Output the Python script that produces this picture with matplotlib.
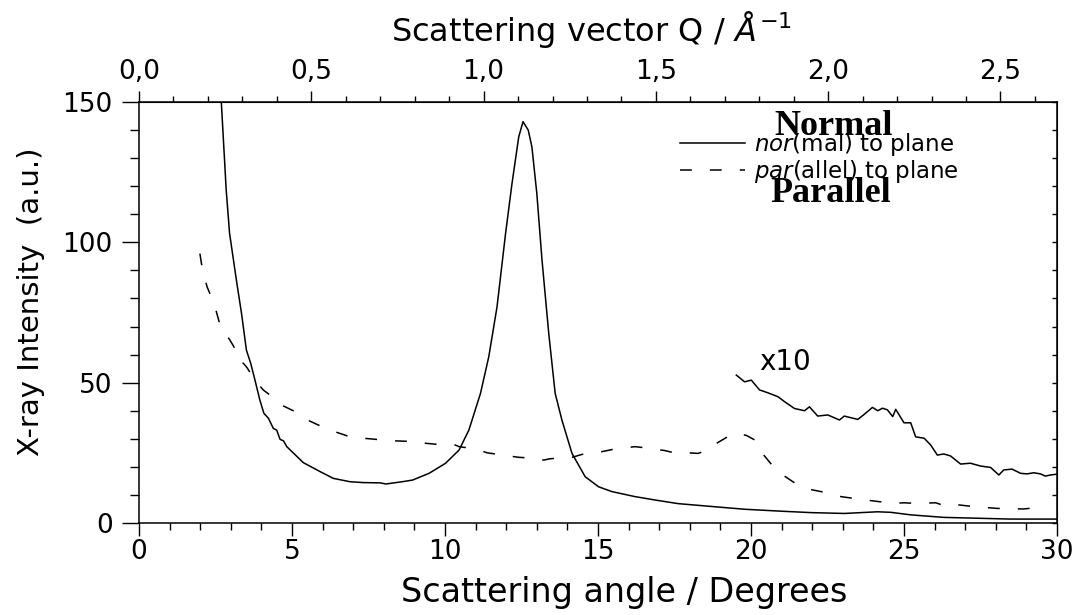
import matplotlib
matplotlib.use("Agg")
import matplotlib.pyplot as plt
from matplotlib.lines import Line2D
from matplotlib.ticker import MultipleLocator, FixedLocator, FuncFormatter
import numpy as np

# scattering angle (deg) / intensity
nor_deg = [2.62, 2.69, 2.85, 2.96, 3.19, 3.35, 3.51, 3.65, 3.79, 3.95, 4.08, 4.23,
           4.39, 4.5, 4.61, 4.72, 4.83, 5.37, 5.92, 6.35, 6.9, 7.33, 7.88, 8.07,
           8.6, 8.94, 9.48, 10.02, 10.46, 10.78, 11.16, 11.43, 11.7, 11.98, 12.19,
           12.41, 12.55, 12.72, 12.84, 13.0, 13.17, 13.39, 13.6, 13.82, 14.15,
           14.58, 15.02, 15.45, 16.21, 16.86, 17.62, 18.7, 19.79, 21.0, 21.96,
           23.05, 24.14, 24.57, 25.22, 26.3, 27.39, 28.48, 30.0]
nor_int = [160, 150, 118.6, 103.2, 86, 74.7, 61.6, 56.9, 50.9, 43.8, 39.1, 37.3,
           33.7, 33.1, 29.8, 29.3, 27.2, 21.5, 18.3, 15.9, 14.7, 14.4, 14.3, 13.9,
           14.7, 15.3, 17.7, 21.3, 26, 33.1, 46.2, 59.2, 77, 103.2, 121,
           137.6, 143, 140, 134, 117.5, 93.7, 67.6, 46.2, 36.7, 24.8,
           16.5, 12.9, 11.2, 9.4, 8.2, 6.9, 5.9, 4.9, 4.2, 3.7,
           3.4, 4.0, 3.8, 2.9, 2.0, 1.7, 1.4, 1.4]

par_deg = [1.99, 2.04, 2.16, 2.23, 2.43, 2.52, 2.65, 2.81, 2.97, 3.1, 3.28, 3.41,
           3.52, 3.79, 4.06, 4.5, 4.72, 5.04, 5.31, 5.92, 6.3, 6.95, 7.33, 7.96,
           8.28, 9.04, 9.37, 9.97, 10.29, 10.46, 11.0, 11.38, 12.08, 12.41, 13.06,
           13.22, 13.44, 14.15, 14.53, 15.12, 15.56, 16.21, 16.54, 17.19, 17.57,
           17.95, 18.27, 18.49, 18.6, 19.2, 19.41, 19.63, 19.85, 20.12, 20.28,
           20.66, 20.93, 21.48, 21.91, 22.56, 22.94, 23.59, 23.97, 24.63, 25.0,
           25.38, 26.04, 26.3, 26.5, 27.07, 27.34, 28.05, 28.43, 28.91, 29.35, 29.6]
par_int = [96, 92.5, 86.6, 84, 78.8, 75.6, 70.5, 67.6, 65.2, 62.8, 57.5, 56.9,
           55.5, 50.9, 47.4, 43.8, 41.7, 40.0, 37.7, 34.6, 32.9, 30.5, 30.2, 29.6,
           29.3, 29.0, 28.4, 27.8, 28.0, 27.2, 26.4, 25.0, 23.9, 23.4, 23.0,
           22.4, 22.9, 23.4, 24.6, 25.4, 26.4, 27.2, 26.8, 25.8, 24.8,
           25.0, 24.8, 25.6, 26.6, 30.5, 31.9, 31.7, 31.2, 29.6, 26.0,
           21.0, 17.9, 13.9, 12.0, 10.6, 9.4, 8.4, 7.9, 7.0, 7.2,
           7.0, 7.2, 6.2, 6.8, 6.1, 5.8, 5.2, 5.1, 5.0, 5.5, 5.0]

# normal curve magnified x10 above 19.5 deg
x10_deg = [19.52, 19.79, 20.01, 20.28, 20.55, 20.88, 21.1, 21.42, 21.75, 21.91,
           22.18, 22.51, 22.89, 23.05, 23.49, 23.71, 23.97, 24.14, 24.3, 24.46,
           24.63, 24.73, 25.0, 25.22, 25.38, 25.66, 25.87, 26.09, 26.3, 26.52,
           26.85, 27.17, 27.5, 27.83, 28.1, 28.26, 28.53, 28.81, 29.02, 29.24,
           29.46, 29.62, 29.78, 30.0]
x10_int = [52.7, 50.3, 50.9, 47.4, 46.4, 45.0, 43.2, 40.8, 40.0, 41.4,
           38.1, 38.5, 36.7, 38.1, 36.9, 38.8, 41.2, 40.0, 40.9, 40.3,
           37.9, 40.5, 35.7, 35.7, 30.7, 30.2, 27.8, 24.2, 24.6, 23.9,
           21.0, 21.3, 20.3, 19.8, 17.1, 18.9, 19.2, 17.7, 17.5, 17.9,
           17.5, 16.7, 17.1, 17.4]

q_ticks = [0.0, 0.5, 1.0, 1.5, 2.0, 2.5]
Q_PER_DEG = 0.0888  # top axis conversion, degrees -> 1/Angstrom

plt.rcParams["font.family"] = "DejaVu Sans"
plt.rcParams["mathtext.fontset"] = "dejavusans"
plt.rcParams["lines.scale_dashes"] = False

fig = plt.figure(figsize=(10.8, 6.15), dpi=100)
ax = fig.add_axes([139 / 1080, 1 - 523 / 615, 918 / 1080, 421 / 615])

lw = 1.1
dash = (8.5, 13)
ax.plot(nor_deg, nor_int, color="black", linewidth=lw)
ax.plot(par_deg, par_int, color="black", linewidth=lw, linestyle=(0, dash))
ax.plot(x10_deg, x10_int, color="black", linewidth=lw)

ax.set_xlim(0, 30)
ax.set_ylim(0, 150)
for s in ax.spines.values():
    s.set_linewidth(1.1)

ax.xaxis.set_major_locator(MultipleLocator(5))
ax.xaxis.set_minor_locator(MultipleLocator(1))
ax.yaxis.set_major_locator(MultipleLocator(50))
ax.yaxis.set_minor_locator(MultipleLocator(10))
ax.tick_params(axis="x", which="major", direction="out", length=9.5, width=1.0,
               labelsize=19, pad=2, top=False)
ax.tick_params(axis="x", which="minor", direction="out", length=5, width=1.0, top=False)
ax.tick_params(axis="y", which="major", direction="out", length=12, width=1.0,
               labelsize=19, pad=7, right=False)
ax.tick_params(axis="y", which="minor", direction="out", length=6.5, width=1.0, right=False)

ax.set_xlabel("Scattering angle / Degrees", fontsize=24)
ax.xaxis.set_label_coords(0.528, -0.127)
ax.set_ylabel("X-ray Intensity  (a.u.)", fontsize=21)
ax.yaxis.set_label_coords(-0.102, 0.525)

# top axis in scattering vector
secx = ax.secondary_xaxis("top", functions=(lambda d: d * Q_PER_DEG,
                                             lambda q: q / Q_PER_DEG))
secx.xaxis.set_major_locator(FixedLocator(q_ticks))
secx.xaxis.set_minor_locator(MultipleLocator(0.1))
secx.xaxis.set_major_formatter(FuncFormatter(lambda v, p: f"{v:.1f}".replace(".", ",")))
secx.tick_params(which="major", direction="out", length=8, width=1.0, labelsize=19, pad=4)
secx.tick_params(which="minor", direction="out", length=4.5, width=1.0)
secx.set_xlabel(r"Scattering vector Q / $\mathit{\AA}^{\mathit{-1}}$", fontsize=23,
                labelpad=13)
secx.xaxis.label.set_x(0.493)

# right side: small inward ticks only
secy = ax.secondary_yaxis("right")
secy.yaxis.set_major_locator(MultipleLocator(10))
secy.tick_params(direction="in", length=3.5, width=1.0, labelright=False)

handles = [Line2D([], [], color="black", linewidth=lw),
           Line2D([], [], color="black", linewidth=lw, linestyle=(0, dash))]
labels = [r"$\mathit{nor}$(mal) to plane", r"$\mathit{par}$(allel) to plane"]
ax.legend(handles, labels, loc="upper left", bbox_to_anchor=(0.589, 0.932),
          frameon=False, fontsize=16.5, handlelength=2.85, handletextpad=0.4,
          labelspacing=0.0, borderpad=0, borderaxespad=0)

fig.text(834 / 1080, 1 - 135 / 615, "Normal", family="Liberation Serif",
         weight="bold", fontsize=26, ha="center", va="baseline")
fig.text(831 / 1080, 1 - 202 / 615, "Parallel", family="Liberation Serif",
         weight="bold", fontsize=26, ha="center", va="baseline")

ax.text(21.1, 57.4, "x10", fontsize=20, ha="center", va="center")

fig.savefig("out.png", dpi=100)
